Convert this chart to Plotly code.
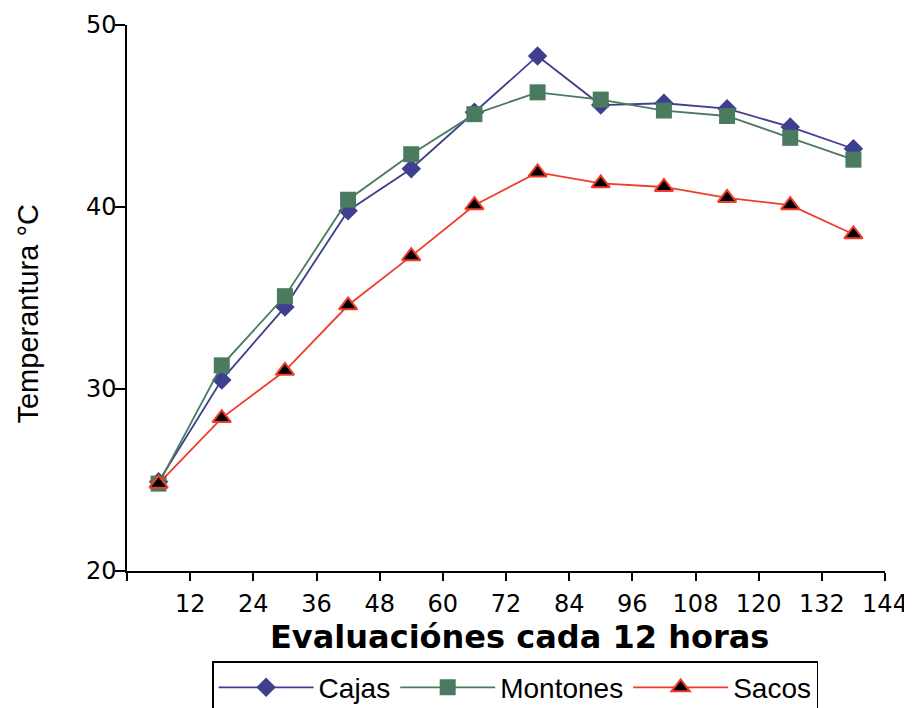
import plotly.graph_objects as go

# Evaluation times (hours) and temperatures
horas = [6, 18, 30, 42, 54, 66, 78, 90, 102, 114, 126, 138]
cajas = [24.9, 30.5, 34.5, 39.8, 42.1, 45.2, 48.3, 45.6, 45.7, 45.4, 44.4, 43.2]
montones = [24.8, 31.3, 35.1, 40.4, 42.9, 45.1, 46.3, 45.9, 45.3, 45.0, 43.8, 42.6]
sacos = [24.8, 28.4, 31.0, 34.6, 37.3, 40.1, 41.9, 41.3, 41.1, 40.5, 40.1, 38.5]

x_ticks = [0, 12, 24, 36, 48, 60, 72, 84, 96, 108, 120, 132, 144]
x_labels = [""] + [str(v) for v in x_ticks[1:]]

fig = go.Figure()

fig.add_trace(go.Scatter(
    x=horas, y=cajas, name="Cajas", mode="lines+markers",
    line=dict(color="#3f3f8f", width=1.8),
    marker=dict(symbol="diamond", size=15, color="#3f3f8f"),
))
fig.add_trace(go.Scatter(
    x=horas, y=montones, name="Montones", mode="lines+markers",
    line=dict(color="#4a7a60", width=1.8),
    marker=dict(symbol="square", size=16, color="#4a7a60"),
))
fig.add_trace(go.Scatter(
    x=horas, y=sacos, name="Sacos", mode="lines+markers",
    line=dict(color="#f03c2c", width=1.8),
    marker=dict(symbol="triangle-up", size=16, color="black",
                line=dict(color="#f03c2c", width=2)),
))

# page body adds an 8px offset, so the figure is a bit smaller than the window
fig.update_layout(
    width=904, height=700,
    margin=dict(l=119, r=27, t=17, b=137, autoexpand=False),
    plot_bgcolor="white", paper_bgcolor="white",
    font=dict(family="DejaVu Sans", color="black"),
    showlegend=True,
    legend=dict(
        orientation="h", x=0.512, xanchor="center", y=-0.165, yanchor="top",
        bordercolor="black", borderwidth=1.5,
        font=dict(family="Liberation Sans", size=28),
        itemwidth=95,
        tracegroupgap=0,
    ),
)

# axis titles placed as annotations so they can sit slightly off-centre
fig.add_annotation(
    text="<b>Evaluaciónes cada 12 horas</b>", xref="paper", yref="paper",
    x=0.518, y=-0.121, xanchor="center", yanchor="middle", showarrow=False,
    font=dict(family="DejaVu Sans", size=32),
)
fig.add_annotation(
    text="Temperantura °C", xref="paper", yref="paper",
    x=-0.131, y=0.471, xanchor="center", yanchor="middle", showarrow=False,
    textangle=-90, font=dict(family="Liberation Sans", size=29),
)

fig.update_xaxes(
    range=[0, 144], tickvals=x_ticks, ticktext=x_labels,
    showline=True, linecolor="black", linewidth=1.5,
    ticks="outside", ticklen=8, tickcolor="black", tickwidth=1.5,
    ticklabelstandoff=2,
    showgrid=False, zeroline=False,
    tickfont=dict(family="DejaVu Sans", size=24),
)
fig.update_yaxes(
    range=[20, 50], tickvals=[20, 30, 40, 50],
    showline=True, linecolor="black", linewidth=1.5,
    ticks="outside", ticklen=10, tickcolor="black", tickwidth=1.5,
    ticklabelstandoff=-6,
    showgrid=False, zeroline=False,
    tickfont=dict(family="DejaVu Sans", size=24),
)

fig.write_html("out.html")
